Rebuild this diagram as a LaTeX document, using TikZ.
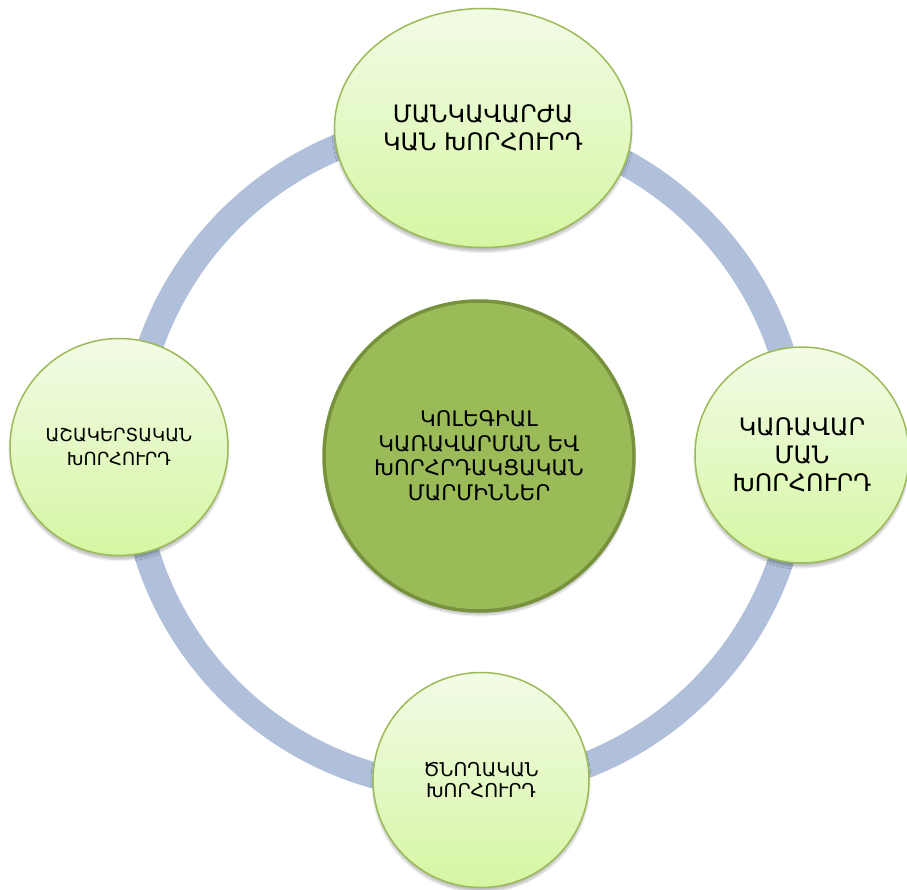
\documentclass[tikz,border=0pt]{standalone}
\usepackage{fontspec}
\setmainfont{DejaVu Sans}
\usepackage{tikz}
\usepackage{xcolor}
\usetikzlibrary{shapes.geometric}
\usetikzlibrary{shadows.blur}
\definecolor{ringblue}{RGB}{176,191,218}
\definecolor{leaftop}{RGB}{242,251,230}
\definecolor{leafbot}{RGB}{214,246,163}
\definecolor{leafline}{RGB}{155,187,89}
\definecolor{corefill}{RGB}{155,187,89}
\definecolor{coreline}{RGB}{118,146,60}
\tikzset{myring/.style={draw=ringblue, line width=26pt}}
\tikzset{myleaf/.style={ellipse, draw=leafline, line width=1.5pt, top color=leaftop, bottom color=leafbot, align=center, inner sep=0pt, blur shadow={shadow xshift=0pt, shadow yshift=-4pt, shadow opacity=25, shadow blur steps=6}}}
\tikzset{mycore/.style={circle, draw=coreline, line width=3.5pt, fill=corefill, align=center, inner sep=0pt, blur shadow={shadow xshift=0pt, shadow yshift=-4pt, shadow opacity=25, shadow blur steps=6}}}

\begin{document}
\begin{tikzpicture}[x=1pt, y=1pt]

\useasboundingbox (0,0) rectangle (907,-890);

\draw[myring] (465,-455) circle [radius=333pt];

\node[mycore, minimum size=310pt, font=\fontsize{21.5}{24.5}\selectfont] (m0) at (479,-456) {ԿՈԼԵԳԻԱԼ\\ ԿԱՌԱՎԱՐՄԱՆ ԵՎ\\ ԽՈՐՀՐԴԱԿՑԱԿԱՆ\\ ՄԱՐՄԻՆՆԵՐ};

\node[myleaf, minimum width=297pt, minimum height=239pt, font=\fontsize{24}{28}\selectfont] (s1) at (483,-128) {ՄԱՆԿԱՎԱՐԺԱ\\ ԿԱՆ ԽՈՐՀՈՒՐԴ};
\node[myleaf, minimum width=214pt, minimum height=216pt, font=\fontsize{24}{28}\selectfont] (s2) at (802,-455) {ԿԱՌԱՎԱՐ\\ ՄԱՆ\\ ԽՈՐՀՈՒՐԴ};
\node[myleaf, minimum width=216pt, minimum height=215pt, font=\fontsize{19}{20.5}\selectfont] (s3) at (481,-780) {ԾՆՈՂԱԿԱՆ\\ ԽՈՐՀՈՒՐԴ};
\node[myleaf, minimum width=218pt, minimum height=217pt, font=\fontsize{18}{24}\selectfont] (s4) at (119,-447) {ԱՇԱԿԵՐՏԱԿԱՆ\\ ԽՈՐՀՈՒՐԴ};

\end{tikzpicture}
\end{document}
